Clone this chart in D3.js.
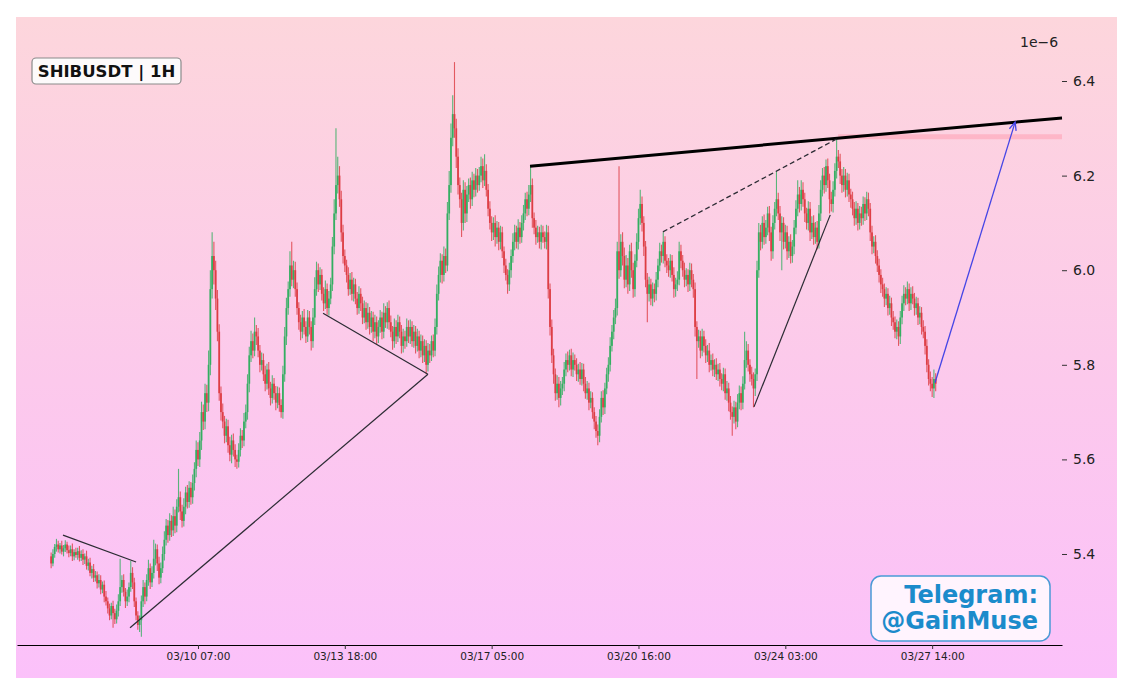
<!DOCTYPE html>
<html><head><meta charset="utf-8">
<script src="https://cdn.jsdelivr.net/npm/d3@7"></script>
<style>
body{margin:0;background:#fff}
svg{display:block;font-family:"DejaVu Sans",sans-serif}
</style>
</head><body>
<svg id="c" width="1134" height="694"></svg>
<script>
// ---- DATA (prices in units of 1e-9; hourly candles starting 2025-03-06 20:00 UTC) ----
const startTime = Date.UTC(2025, 2, 6, 20);
const firstOpen = 5395;
const closes = [
5380,5400,5415,5420,5410,5418,5405,5412,5420,5408,
5402,5410,5395,5404,5398,5406,5392,5400,5388,5395,
5375,5382,5360,5368,5350,5355,5338,5345,5325,5335,
5310,5300,5285,5270,5290,5275,5262,5280,5300,5330,
5345,5320,5300,5310,5330,5360,5340,5300,5270,5250,
5260,5300,5330,5310,5345,5370,5340,5360,5390,5410,
5380,5350,5370,5400,5430,5460,5440,5470,5450,5480,
5460,5500,5520,5490,5470,5500,5530,5510,5540,5520,
5550,5580,5620,5600,5640,5700,5680,5740,5720,5800,
5960,6030,6000,5940,5870,5740,5700,5680,5650,5670,
5630,5610,5640,5620,5600,5595,5620,5650,5640,5680,
5700,5760,5820,5850,5830,5870,5860,5830,5800,5810,
5780,5760,5790,5750,5730,5760,5740,5720,5740,5715,
5700,5780,5860,5920,5960,6010,5980,6000,5960,5920,
5890,5870,5900,5880,5860,5900,5880,5850,5900,5960,
6000,5970,5990,5950,5930,5960,5920,5940,5970,6050,
6120,6180,6200,6150,6080,6030,6010,5990,5960,5980,
5950,5970,5940,5920,5950,5930,5900,5920,5890,5910,
5880,5900,5870,5890,5860,5880,5900,5870,5910,5890,
5920,5890,5870,5850,5880,5860,5890,5870,5840,5860,
5850,5880,5860,5880,5850,5870,5840,5860,5830,5850,
5820,5840,5800,5830,5820,5850,5830,5880,5950,5990,
6020,5990,6030,6010,6120,6180,6280,6330,6300,6240,
6180,6150,6100,6170,6120,6160,6180,6150,6190,6170,
6200,6180,6200,6220,6190,6210,6170,6130,6100,6080,
6100,6070,6090,6060,6080,6040,6010,5990,5970,6000,
6030,6060,6080,6060,6090,6070,6100,6120,6150,6130,
6160,6180,6110,6090,6070,6080,6060,6080,6070,6060,
6080,5960,5880,5820,5780,5740,5760,5730,5750,5760,
5790,5810,5800,5820,5790,5810,5800,5780,5790,5770,
5790,5760,5740,5750,5720,5730,5700,5680,5660,5650,
5690,5730,5710,5750,5780,5800,5840,5870,5900,5920,
6040,6000,6060,6030,5980,6010,5970,6040,6000,5960,
6020,6060,6110,6140,6100,6050,5980,5950,5970,5940,
5960,5950,5980,6010,6040,6030,6060,6020,6010,6000,
6020,5990,5960,5970,5980,6040,6020,6000,5980,5990,
5970,6000,5980,5960,5880,5850,5860,5830,5860,5840,
5820,5830,5800,5810,5790,5800,5780,5790,5770,5760,
5780,5740,5750,5720,5700,5690,5710,5680,5720,5740,
5720,5760,5810,5830,5800,5780,5770,5750,5780,6000,
6080,6060,6100,6070,6090,6120,6080,6040,6100,6130,
6150,6120,6080,6100,6060,6080,6040,6060,6030,6050,
6090,6130,6160,6140,6170,6150,6120,6100,6130,6080,
6100,6070,6090,6060,6120,6170,6200,6180,6220,6190,
6150,6140,6170,6210,6240,6230,6200,6180,6200,6170,
6190,6160,6150,6130,6110,6130,6100,6120,6110,6140,
6120,6150,6130,6080,6050,6060,6030,6010,5990,5970,
5960,5940,5950,5920,5930,5900,5890,5870,5880,5860,
5900,5930,5950,5940,5960,5930,5950,5940,5920,5930,
5900,5910,5880,5870,5840,5800,5770,5760,5750,5770,
5760];
const wickUp = [
8,10,6,12,8,5,10,7,9,6,
10,8,12,6,9,7,11,8,10,6,
12,8,10,7,11,9,8,12,10,7,
9,12,8,10,7,11,9,13,15,60,
10,12,8,15,10,25,12,10,8,9,
10,12,15,10,12,18,10,14,40,12,
10,14,12,16,18,14,12,16,12,20,
14,16,60,12,14,18,12,16,14,12,
18,14,20,16,18,22,16,20,18,30,
40,50,30,20,18,16,14,18,12,16,
14,18,12,15,12,10,14,16,12,18,
16,20,18,22,16,30,14,18,12,16,
14,18,12,16,14,18,12,15,14,12,
12,18,20,22,16,30,50,20,18,14,
12,16,14,18,12,16,14,12,20,25,
18,14,16,12,14,18,12,16,14,20,
30,120,40,20,18,16,14,12,16,14,
16,14,12,14,16,12,14,16,12,20,
12,14,12,16,12,14,16,12,20,14,
12,16,14,12,18,14,16,12,14,16,
12,18,14,16,12,14,12,16,12,14,
12,14,12,16,14,12,14,18,20,18,
16,14,20,16,24,30,30,40,110,20,
18,16,14,20,16,18,14,16,18,14,
16,14,18,20,16,35,14,12,16,14,
12,16,14,12,14,12,10,14,12,16,
14,18,16,14,18,12,16,18,14,16,
20,40,14,12,16,14,12,16,14,12,
16,14,12,16,14,12,18,14,16,14,
16,14,18,12,14,16,12,14,12,16,
14,12,14,16,12,14,12,10,12,14,
16,14,16,12,14,16,18,14,16,20,
20,180,16,20,18,22,16,14,18,16,
14,18,20,30,16,14,12,14,16,12,
14,12,16,14,18,14,20,12,14,16,
14,12,16,14,18,20,14,12,16,14,
12,16,14,12,14,12,14,12,16,12,
14,12,16,12,14,12,14,12,14,12,
14,12,16,12,14,12,14,12,18,16,
14,16,60,20,14,12,16,14,12,20,
20,16,14,18,16,14,16,12,16,14,
60,14,16,14,12,16,14,12,16,14,
16,18,30,16,20,16,14,12,16,14,
14,16,12,14,18,20,16,18,14,16,
14,16,18,16,40,14,16,14,18,14,
16,14,12,16,14,16,12,16,14,16,
14,16,14,12,14,12,14,12,14,12,
14,12,14,12,16,12,14,12,16,12,
14,16,18,14,16,12,14,16,12,14,
12,14,12,14,12,14,12,16,14,20,
12];
const wickDown = [
10,6,8,10,7,9,6,10,8,7,
9,7,10,8,6,10,8,7,11,9,
8,10,7,12,9,8,11,9,10,8,
12,9,11,10,8,31,10,9,12,10,
12,10,14,10,12,10,14,12,10,10,
15,35,12,16,10,12,14,10,12,14,
16,14,12,10,14,12,16,12,14,12,
16,14,12,18,14,12,16,14,12,16,
14,16,18,14,16,20,18,16,20,18,
22,20,30,24,20,16,18,14,16,14,
16,14,18,14,16,15,12,14,16,12,
14,16,18,14,16,12,18,14,16,12,
14,16,12,14,16,12,14,16,12,14,
12,14,16,18,14,16,14,18,16,14,
16,18,14,16,14,12,16,20,14,16,
14,16,12,14,16,12,14,16,12,14,
16,14,18,16,20,16,14,16,14,12,
14,16,12,14,12,16,14,12,16,14,
16,12,20,14,16,14,12,16,14,12,
14,16,12,18,14,16,12,14,16,14,
16,12,14,16,12,14,16,12,16,14,
16,14,20,14,16,12,14,12,16,14,
16,18,14,16,12,14,16,18,20,24,
20,18,30,16,20,18,16,20,14,16,
14,16,12,14,16,12,14,16,14,18,
16,20,14,18,16,14,16,12,20,14,
16,14,18,14,16,14,12,16,14,16,
14,16,20,14,16,12,14,16,12,14,
16,20,18,16,20,16,14,20,16,14,
16,14,16,12,14,16,12,14,16,12,
14,16,12,14,16,12,14,16,14,20,
14,12,16,14,12,16,14,12,16,14,
16,18,14,20,18,16,20,14,16,18,
16,14,16,14,18,20,16,60,16,14,
16,18,14,16,12,14,16,14,16,14,
16,14,18,16,14,12,16,14,16,14,
16,14,16,18,20,80,14,16,12,14,
16,14,16,12,14,16,12,14,16,14,
16,14,16,18,16,40,14,16,12,14,
16,14,12,16,14,16,14,40,16,14,
16,18,14,16,14,16,18,20,16,14,
16,14,18,80,16,14,18,14,16,14,
16,14,16,18,14,16,18,14,16,18,
14,16,14,16,14,16,14,18,14,16,
30,16,18,14,16,14,18,16,14,16,
14,16,18,14,16,14,16,14,16,14,
16,14,16,18,16,14,16,14,16,18,
16,18,14,16,14,18,16,14,16,20,
16,14,16,14,12,16,14,12,16,14,
16,14,16,14,18,16,14,16,18,20,
16];
const xTickLabels = ["03/10 07:00","03/13 18:00","03/17 05:00","03/20 16:00","03/24 03:00","03/27 14:00"];
const yTicks = [5.4, 5.6, 5.8, 6.0, 6.2, 6.4];
// drawn lines: [candle index, price (1e-6)]
const thinLines = [
  [[6.7, 5.440], [48, 5.383]],
  [[44.6, 5.244], [213, 5.780]],
  [[153.7, 5.909], [213, 5.780]],
  [[397.3, 5.711], [440.4, 6.117]]
];
const resistanceLine = [[270.7, 6.220], [571.4, 6.322]];
const dashedLine = [[345.8, 6.081], [444.8, 6.279]];
const targetArrow = [[499.6, 5.762], [544.9, 6.313]];
const resistanceBand = {from: 444.8, to: 571.4, price: 6.282};

// ---- BUILD ----
const candles = closes.map((c, i) => {
  const o = i ? closes[i - 1] : firstOpen;
  return {i, o: o / 1000, c: c / 1000,
    h: (Math.max(o, c) + wickUp[i]) / 1000,
    l: (Math.min(o, c) - wickDown[i]) / 1000};
});

const svg = d3.select("#c");
const defs = svg.append("defs");
const grad = defs.append("linearGradient").attr("id", "bg").attr("x1", 0).attr("y1", 0).attr("x2", 0).attr("y2", 1);
grad.append("stop").attr("offset", "0%").attr("stop-color", "#fdd6dc");
grad.append("stop").attr("offset", "55%").attr("stop-color", "#fcc9ec");
grad.append("stop").attr("offset", "100%").attr("stop-color", "#fbc1fa");
defs.append("marker").attr("id", "arr").attr("viewBox", "-10 -6 12 12")
  .attr("refX", 0).attr("refY", 0).attr("markerWidth", 12).attr("markerHeight", 12)
  .attr("markerUnits", "userSpaceOnUse").attr("orient", "auto")
  .append("path").attr("d", "M-8,-3.5L0,0L-8,3.5").attr("fill", "none")
  .attr("stroke", "#4545e6").attr("stroke-width", 1.3);

svg.append("rect").attr("x", 16).attr("y", 17).attr("width", 1101).attr("height", 661).attr("fill", "url(#bg)");

const x = d3.scaleLinear().domain([-19.3, 571.4]).range([17, 1062]);
const y = d3.scaleLinear().domain([5.2076, 6.4698]).range([645, 48]);

// pink band
svg.append("line")
  .attr("x1", x(resistanceBand.from)).attr("x2", x(resistanceBand.to))
  .attr("y1", y(resistanceBand.price)).attr("y2", y(resistanceBand.price))
  .attr("stroke", "#ff9fb2").attr("stroke-opacity", 0.55).attr("stroke-width", 5);

// candles
const up = "#2fae5e", dn = "#dc3a40";
const g = svg.append("g");
g.selectAll("line.w").data(candles).join("line").attr("class", "w")
  .attr("x1", d => x(d.i)).attr("x2", d => x(d.i))
  .attr("y1", d => y(d.h)).attr("y2", d => y(d.l))
  .attr("stroke", d => d.c >= d.o ? up : dn).attr("stroke-opacity", 0.8).attr("stroke-width", 1.1);
const bw = 1.8;
g.selectAll("rect.b").data(candles).join("rect").attr("class", "b")
  .attr("x", d => x(d.i) - bw / 2).attr("width", bw)
  .attr("y", d => y(Math.max(d.o, d.c)))
  .attr("height", d => Math.max(1, Math.abs(y(d.o) - y(d.c))))
  .attr("fill", d => d.c >= d.o ? up : dn).attr("fill-opacity", 0.92);

// lines
const seg = p => `M${x(p[0][0])},${y(p[0][1])}L${x(p[1][0])},${y(p[1][1])}`;
svg.selectAll("path.tl").data(thinLines).join("path").attr("class", "tl")
  .attr("d", seg).attr("stroke", "#2b2b33").attr("stroke-width", 1.2).attr("fill", "none");
svg.append("path").attr("d", seg(resistanceLine)).attr("stroke", "#000").attr("stroke-width", 3).attr("fill", "none");
svg.append("path").attr("d", seg(dashedLine)).attr("stroke", "#2b2b33").attr("stroke-width", 1.3)
  .attr("stroke-dasharray", "5,3").attr("fill", "none");
svg.append("path").attr("d", seg(targetArrow)).attr("stroke", "#4545e6").attr("stroke-width", 1.3)
  .attr("fill", "none").attr("marker-end", "url(#arr)");

// axes
const parseT = d3.utcParse("%Y/%m/%d %H:%M");
const xTickIdx = xTickLabels.map(l => (parseT("2025/" + l) - startTime) / 3600000);
const xAxis = svg.append("g").attr("transform", "translate(0,645)")
  .call(d3.axisBottom(x).tickValues(xTickIdx).tickFormat((d, k) => xTickLabels[k]).tickSize(4).tickSizeOuter(0).tickPadding(4));
xAxis.select(".domain").attr("stroke", "#000").attr("stroke-width", 1);
xAxis.selectAll(".tick line").attr("stroke", "#333");
xAxis.selectAll("text").attr("font-size", "10.5px").attr("fill", "#222").attr("font-family", "DejaVu Sans");

const yAxis = svg.append("g").attr("transform", "translate(1062,0)")
  .call(d3.axisRight(y).tickValues(yTicks).tickFormat(d3.format(".1f")).tickSize(5).tickPadding(6));
yAxis.select(".domain").remove();
yAxis.selectAll(".tick line").attr("stroke", "#333");
yAxis.selectAll("text").attr("font-size", "14px").attr("fill", "#222").attr("font-family", "DejaVu Sans");
svg.append("text").attr("x", 1020).attr("y", 47).attr("font-size", "14px").attr("fill", "#222").text("1e\u22126");

// title box
const tb = svg.append("g");
tb.append("rect").attr("x", 32).attr("y", 58).attr("width", 149).attr("height", 26).attr("rx", 4)
  .attr("fill", "#fdfafb").attr("stroke", "#8a8a8a").attr("stroke-width", 1.2);
tb.append("text").attr("x", 106.5).attr("y", 77).attr("text-anchor", "middle")
  .attr("font-weight", "bold").attr("font-size", "16.5px").attr("fill", "#111").text("SHIBUSDT | 1H");

// telegram box
const bb = svg.append("g");
bb.append("rect").attr("x", 871).attr("y", 576).attr("width", 179).attr("height", 65).attr("rx", 10)
  .attr("fill", "#ffffff").attr("fill-opacity", 0.82).attr("stroke", "#4a9ad6").attr("stroke-width", 1.5);
bb.append("text").attr("x", 1038).attr("y", 603).attr("text-anchor", "end")
  .attr("font-weight", "bold").attr("font-size", "24px").attr("fill", "#1b8bcb").text("Telegram:");
bb.append("text").attr("x", 1038).attr("y", 629).attr("text-anchor", "end")
  .attr("font-weight", "bold").attr("font-size", "24px").attr("fill", "#1b8bcb").text("@GainMuse");
</script>
</body></html>
